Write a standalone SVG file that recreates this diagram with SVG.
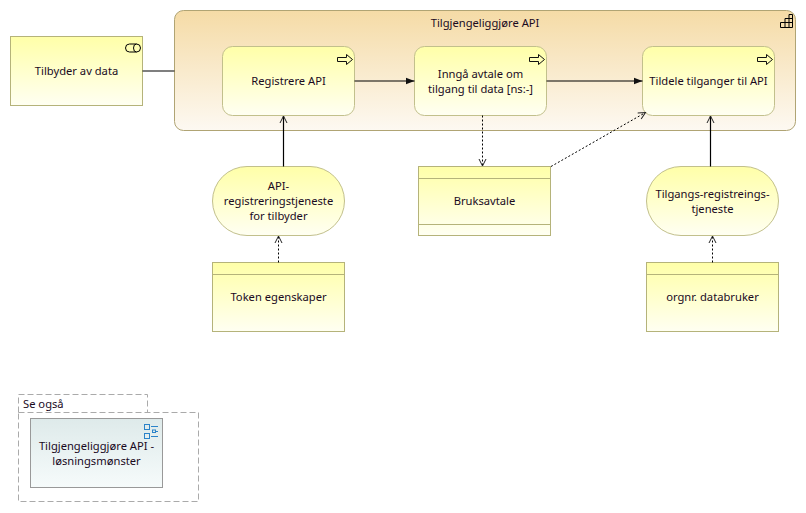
<svg xmlns="http://www.w3.org/2000/svg" width="806" height="513" viewBox="0 0 806 513">
<style>
text{font-family:"Noto Sans","Open Sans","Liberation Sans",sans-serif;font-size:11.2px;fill:#1a0a1e;text-anchor:middle}
.n{fill:url(#y);stroke:#b5b37a;stroke-width:1}
.r{fill:url(#y);stroke:#c2c08c;stroke-width:1}
.i{fill:none;stroke:#000;stroke-width:1}
.c{fill:none;stroke:#000;stroke-width:1.2}
.d{fill:none;stroke:#000;stroke-width:1;stroke-dasharray:2 2}
.v{marker-end:url(#open)}
.t{marker-end:url(#fill)}
</style>
<defs>
<linearGradient id="y" x1="0" y1="0" x2="0" y2="1"><stop offset="0" stop-color="#ffffa8"/><stop offset="1" stop-color="#fffff2"/></linearGradient>
<linearGradient id="o" x1="0" y1="0" x2="0" y2="1"><stop offset="0" stop-color="#f5dba6"/><stop offset="1" stop-color="#fdf9f2"/></linearGradient>
<linearGradient id="b" x1="0" y1="0" x2="0" y2="1"><stop offset="0" stop-color="#deeaea"/><stop offset="1" stop-color="#f6fbfb"/></linearGradient>
<marker id="open" markerUnits="userSpaceOnUse" markerWidth="10" markerHeight="12" refX="8" refY="5" orient="auto" viewBox="0 0 10 10"><path d="M1 1.5L8 5L1 8.5" fill="none" stroke="#222" stroke-width="1"/></marker>
<marker id="fill" markerUnits="userSpaceOnUse" markerWidth="10" markerHeight="10" refX="8" refY="4" orient="auto" viewBox="0 0 9 8"><path d="M0 1L8 4L0 7Z" fill="#111"/></marker>
<path id="arr" d="M0 3H9V0L15 5L9 10V7H0Z" fill="none" stroke="#111" stroke-width="1"/>
</defs>
<g id="node-tilbyder"><rect class="n" x="10.5" y="36.5" width="132" height="69"/>
<rect class="i" x="125.5" y="44" width="15" height="8" rx="4"/><path class="i" d="M136.5 44a3 4 0 0 0 0 8"/>
<text x="76.5" y="75">Tilbyder av data</text></g>
<g id="node-tilgjengeliggjore"><rect x="174.5" y="10.5" width="621" height="120" rx="9" fill="url(#o)" stroke="#b0a474"/>
<path class="i" d="M780.5 27.5V22.5H785V18.5H789V14.5H792.5V27.5ZM785 22.5H792.5M785 22.5V27.5M789 18.5V27.5M789 18.5H792.5"/>
<text x="485" y="27">Tilgjengeliggjøre API</text></g>
<g id="node-registrere"><rect class="r" x="222.5" y="46.5" width="132" height="69" rx="10"/><use href="#arr" x="337.5" y="54.5"/>
<text x="288.5" y="85">Registrere API</text></g>
<g id="node-inngaa"><rect class="r" x="414.5" y="46.5" width="132" height="69" rx="10"/><use href="#arr" x="529.5" y="54.5"/>
<text x="480.5" y="78">Inngå avtale om</text><text x="480.5" y="93">tilgang til data [ns:-]</text></g>
<g id="node-tildele"><rect class="r" x="642.5" y="46.5" width="132" height="69" rx="10"/><use href="#arr" x="757.5" y="54.5"/>
<text x="708.5" y="85">Tildele tilganger til API</text></g>
<g id="node-api-tjeneste"><rect class="r" x="212.5" y="166.5" width="132" height="69" rx="34.5"/>
<text x="278.5" y="190">API-</text><text x="278.5" y="205">registreringstjeneste</text><text x="278.5" y="220">for tilbyder</text></g>
<g id="node-token"><rect class="n" x="212.5" y="262.5" width="132" height="69"/><path class="n" d="M212.5 274.5H344.5"/>
<text x="278.5" y="301">Token egenskaper</text></g>
<g id="node-bruksavtale"><rect class="n" x="418.5" y="166.5" width="132" height="69"/><path class="n" d="M418.5 178.5H550.5M418.5 224.5H550.5"/>
<text x="484.5" y="205">Bruksavtale</text></g>
<g id="node-tilgangs"><rect class="r" x="646.5" y="166.5" width="132" height="69" rx="34.5"/>
<text x="712.5" y="198">Tilgangs-registreings-</text><text x="712.5" y="213">tjeneste</text></g>
<g id="node-orgnr"><rect class="n" x="646.5" y="262.5" width="132" height="69"/><path class="n" d="M646.5 274.5H778.5"/>
<text x="712.5" y="301">orgnr. databruker</text></g>
<g id="node-se-ogsa"><path d="M18.5 412.5V394.5H147.5V412.5M18.5 412.5H198.5V501.5H18.5Z" fill="#fff" stroke="#aaa" stroke-dasharray="6 3"/>
<text x="23" y="408" style="text-anchor:start">Se også</text></g>
<g id="node-losningsmonster"><rect x="30.5" y="418.5" width="132" height="69" fill="url(#b)" stroke="#999"/>
<g fill="none" stroke="#2b83c9"><rect x="144.5" y="424.5" width="5" height="5"/><rect x="144.5" y="433.5" width="5" height="5"/><rect x="152.5" y="430" width="3" height="2.5"/><path d="M151 426.5H158M156 431.5H158M151 436.5H158"/></g>
<text x="96.5" y="450">Tilgjengeliggjøre API -</text><text x="96.5" y="465">løsningsmønster</text></g>
<g id="connectors">
<path class="c" d="M142.5 71H174.5"/>
<path class="c t" d="M354.5 81H414.5"/>
<path class="c t" d="M546.5 81H642.5"/>
<path class="c v" d="M283.5 166.5V116"/>
<path class="c v" d="M710.5 166.5V116"/>
<path class="d v" d="M278.5 262.5V236"/>
<path class="d v" d="M712.5 262.5V236"/>
<path class="d v" d="M482.5 115.5V166"/>
<path class="d v" d="M551 166.5L645.5 112.5"/>
</g>
</svg>
